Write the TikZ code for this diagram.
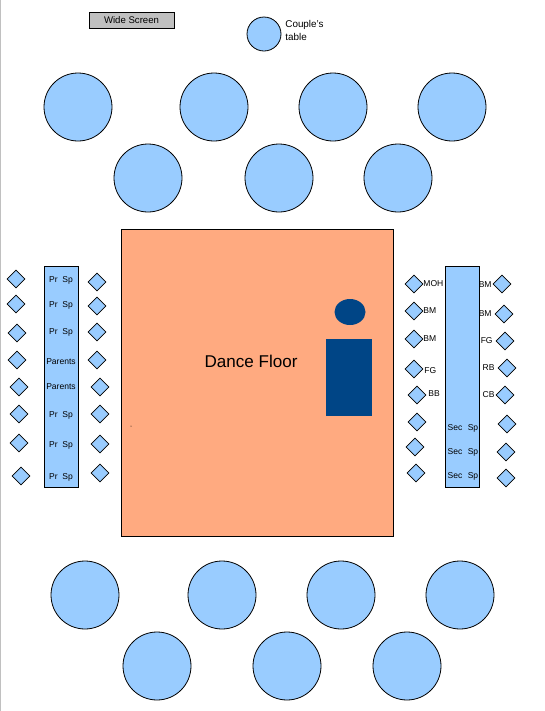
\documentclass[tikz,border=0pt]{standalone}
\usepackage{fontspec}
\setmainfont{Liberation Sans}
\usetikzlibrary{shapes.geometric}

\definecolor{TableColor}{HTML}{99CCFF}
\definecolor{FloorColor}{HTML}{FFAA80}
\definecolor{CoupleColor}{HTML}{004586}
\definecolor{ScreenColor}{HTML}{C0C0C0}

\tikzset{
  roundtable/.style={circle, draw=black, fill=TableColor, minimum size=51pt, inner sep=0pt},
  seat/.style={diamond, draw=black, fill=TableColor, minimum size=13.5pt, inner sep=0pt},
  tiny label/.style={font=\fontsize{6.4pt}{7.5pt}\selectfont, inner sep=0pt}
}

\begin{document}
\begin{tikzpicture}[x=0.75pt, y=-0.75pt, line width=0.6pt]
\useasboundingbox (0,0) rectangle (544,711);

% Page edge
\fill[ScreenColor] (0,0) rectangle (1.2,711);

% Screen and couple's table
\node[draw=black, fill=ScreenColor, minimum width=63.75pt, minimum height=12pt, inner sep=0pt,
  font=\fontsize{7.2pt}{8pt}\selectfont] (screen) at (131.5,20) {Wide Screen};
\node[roundtable, minimum size=25.5pt] (couple) at (264,34) {};
\node[font=\fontsize{7.4pt}{9.5pt}\selectfont, align=left, anchor=west, inner sep=0pt] (coupleLabel) at (285,30.5) {Couple's\\table};

% Round tables, top rows
\foreach \x/\y [count=\i] in {78/107, 214/107, 333/107, 452/107, 148/178, 279/178, 398/178} {
  \node[roundtable] (top\i) at (\x,\y) {};
}

% Round tables, bottom rows
\foreach \x/\y [count=\i] in {85/595, 222/595, 341/595, 460/595, 157/666, 287/666, 407/666} {
  \node[roundtable] (bottom\i) at (\x,\y) {};
}

% Dance floor with the couple on it
\draw[fill=FloorColor] (121.5,229.5) rectangle (393,536);
\node[font=\fontsize{12.8pt}{14pt}\selectfont, inner sep=0pt] (floorLabel) at (251,361) {Dance Floor};
\fill[CoupleColor] (350,312) ellipse (15.5 and 13);
\fill[CoupleColor] (326,339) rectangle (372,416);
\fill[black] (131,426) circle (0.5);

% Long tables
\draw[fill=TableColor] (44,266) rectangle (78,487);
\draw[fill=TableColor] (445,266) rectangle (479.5,487);

% Left table labels
\foreach \y/\txt [count=\i] in {280/Pr\ \ Sp, 305/Pr\ \ Sp, 332/Pr\ \ Sp, 362/Parents, 387/Parents, 415/Pr\ \ Sp, 445/Pr\ \ Sp, 477/Pr\ \ Sp} {
  \node[tiny label] (leftLabel\i) at (61,\y) {\txt};
}

% Right table labels
\foreach \y [count=\i] in {428, 452, 476} {
  \node[tiny label] (secLabel\i) at (455,\y) {Sec};
  \node[tiny label] (spLabel\i) at (473,\y) {Sp};
}

% Seats left of the tables
\foreach \x/\y [count=\i] in {16/279, 16/304, 17/333, 17/360, 19/387, 19/414, 19/443, 21/476} {
  \node[seat] (seatA\i) at (\x,\y) {};
}
\foreach \x/\y [count=\i] in {97/282, 97/306, 97/332, 97/360, 100/387, 100/414, 100/444, 100/473} {
  \node[seat] (seatB\i) at (\x,\y) {};
}

% Seats right of the tables
\foreach \x/\y [count=\i] in {414/284, 414/311, 414/339, 414/369, 417/395, 417/422, 415/447, 416/473} {
  \node[seat] (seatC\i) at (\x,\y) {};
}
\foreach \x/\y [count=\i] in {502/284, 504/314, 505/341, 507/368, 505/395, 507/424, 506/452, 506/478} {
  \node[seat] (seatD\i) at (\x,\y) {};
}

% Seat labels
\foreach \x/\y/\txt [count=\i] in {423/284/MOH, 423/311/BM, 423/339/BM, 424/371/FG, 428/394/BB} {
  \node[tiny label, anchor=west] (wedLabel\i) at (\x,\y) {\txt};
}
\foreach \x/\y/\txt [count=\i] in {492/285/BM, 492/314/BM, 493/341/FG, 495/368/RB, 495/395/CB} {
  \node[tiny label, anchor=east] (partyLabel\i) at (\x,\y) {\txt};
}

\end{tikzpicture}
\end{document}
